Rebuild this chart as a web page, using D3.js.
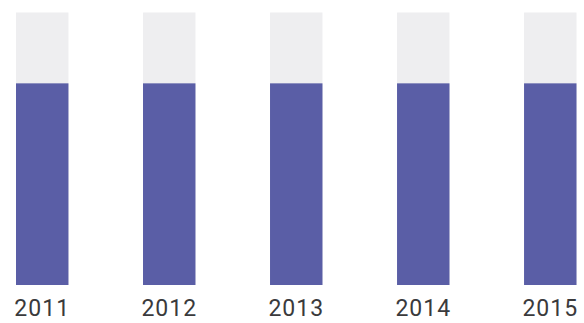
<!DOCTYPE html>
<html>
<head>
<meta charset="utf-8">
<script src="https://cdn.jsdelivr.net/npm/d3@7"></script>
<style>
  html, body { margin: 0; padding: 0; background: #ffffff; }
  svg { display: block; }
</style>
</head>
<body>
<svg id="chart" width="584" height="323"></svg>
<script>
// Yearly share (percent) filled in each column; the pale track shows the full 100%.
const years = ["2011", "2012", "2013", "2014", "2015"];
const shares = [74, 74, 74, 74, 74];
const fullScale = [0, 100];

const width = 584, height = 323;
const margin = { top: 12.5, bottom: 38, left: 16, right: 7.5 };

const svg = d3.select("#chart");

const x = d3.scaleBand()
  .domain(years)
  .range([margin.left, width - margin.right])
  .paddingInner(0.587)
  .paddingOuter(0);

const y = d3.scaleLinear()
  .domain(fullScale)
  .range([height - margin.bottom, margin.top]);

const data = years.map((yr, i) => ({ year: yr, value: shares[i] }));

// pale background track
svg.append("g")
  .selectAll("rect")
  .data(data)
  .join("rect")
  .attr("x", d => x(d.year))
  .attr("width", x.bandwidth())
  .attr("y", y(fullScale[1]))
  .attr("height", y(fullScale[0]) - y(fullScale[1]))
  .attr("fill", "#eeeef0");

// filled share
svg.append("g")
  .selectAll("rect")
  .data(data)
  .join("rect")
  .attr("x", d => x(d.year))
  .attr("width", x.bandwidth())
  .attr("y", d => y(d.value))
  .attr("height", d => y(0) - y(d.value))
  .attr("fill", "#5a5ea6");

// year labels
const axis = d3.axisBottom(x).tickSize(0).tickPadding(0);
const gx = svg.append("g")
  .attr("transform", `translate(0,${height - margin.bottom})`)
  .call(axis);
gx.select(".domain").remove();
gx.selectAll("text")
  .attr("dy", null)
  .attr("y", 31)
  .attr("fill", "#3a3a3c")
  .style("font-family", "Roboto, 'Noto Sans', sans-serif")
  .style("font-size", "23px")
  .style("letter-spacing", "1px");
</script>
</body>
</html>
